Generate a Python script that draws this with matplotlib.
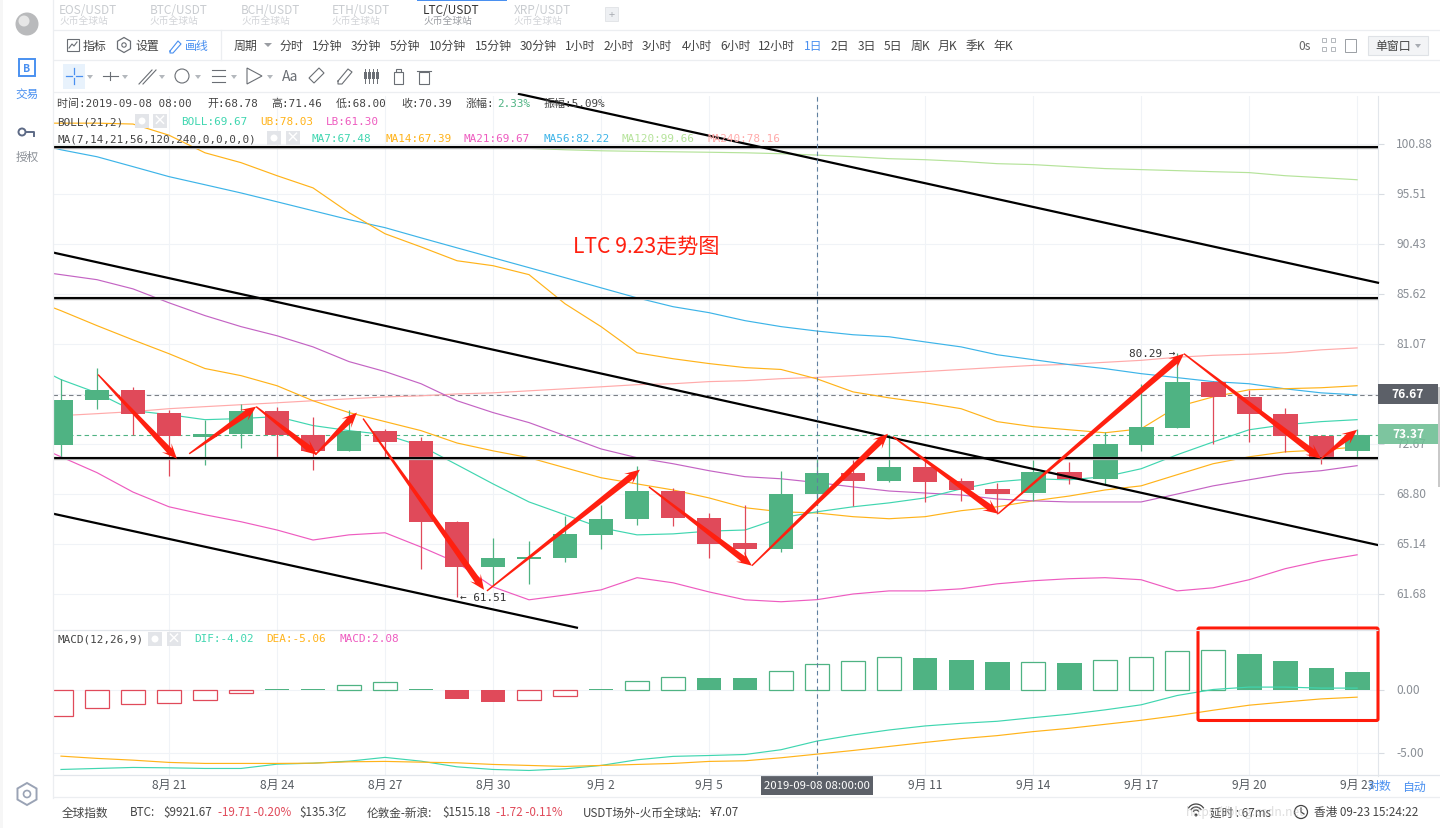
#!/usr/bin/env python3
# -*- coding: utf-8 -*-
import numpy as np
import matplotlib
matplotlib.use("Agg")
import matplotlib.pyplot as plt
from matplotlib.patches import Rectangle, Circle, Polygon, FancyBboxPatch, RegularPolygon
from matplotlib.transforms import IdentityTransform, ScaledTranslation

plt.rcParams['font.family'] = ['Noto Sans CJK SC', 'DejaVu Sans']
MONO = ['DejaVu Sans Mono', 'Noto Sans CJK SC']

# daily candles, 8/18 .. 9/23
OPEN = [72.62, 76.21, 77.10, 75.20, 73.19, 73.44, 75.37, 73.41, 72.08, 73.74, 72.90, 66.75, 63.50,
        64.12, 64.19, 65.82, 66.92, 69.02, 67.04, 65.21, 64.79, 68.78, 70.42, 69.80, 70.88, 69.80,
        69.18, 68.87, 70.50, 69.95, 72.59, 73.96, 77.79, 76.51, 75.12, 73.33, 72.14]
CLOSE = [76.27, 77.10, 75.07, 73.27, 73.47, 75.37, 73.36, 72.08, 73.74, 72.85, 66.70, 63.50, 64.17,
         64.22, 65.87, 66.97, 69.02, 66.99, 65.16, 64.79, 68.80, 70.39, 69.80, 70.88, 69.75, 69.10,
         68.80, 70.50, 69.95, 72.66, 74.05, 77.79, 76.54, 75.07, 73.27, 71.52, 73.37]
HIGH = [78.05, 79.00, 77.35, 75.39, 74.63, 75.94, 75.64, 74.88, 75.45, 73.90, 73.23, 66.83, 65.57,
        65.36, 67.19, 67.99, 70.96, 69.26, 67.41, 67.99, 70.57, 71.46, 71.42, 73.39, 71.73, 70.03,
        69.64, 71.42, 71.29, 73.66, 77.62, 80.29, 77.87, 77.10, 75.61, 73.38, 73.85]
LOW = [71.58, 75.53, 73.40, 70.21, 71.05, 72.36, 71.50, 70.65, 72.08, 71.58, 63.36, 61.51, 62.30,
       62.37, 63.85, 64.79, 66.53, 66.47, 64.17, 63.83, 64.59, 68.00, 67.92, 69.72, 68.23, 68.31,
       67.33, 68.31, 69.59, 69.57, 72.14, 73.96, 72.69, 72.84, 72.07, 71.07, 71.60]

# indicator lines start one day earlier, off the left edge
MA7 = [79.52, 77.97, 76.85, 75.37, 75.04, 74.63, 74.72, 74.88, 74.15, 73.74, 73.42, 72.52, 71.04,
       69.57, 68.21, 67.26, 66.31, 65.80, 65.87, 66.07, 66.15, 67.04, 67.48, 67.85, 68.14, 68.51,
       69.19, 69.73, 69.96, 69.88, 70.12, 70.73, 71.82, 72.83, 73.81, 74.22, 74.47, 74.63]
MA14 = [85.35, 84.07, 82.71, 81.43, 80.21, 78.92, 78.31, 77.45, 76.19, 75.21, 74.47, 73.74, 72.75,
        72.13, 71.59, 70.81, 70.04, 69.57, 69.11, 68.51, 67.78, 67.48, 67.39, 67.12, 66.97, 67.12,
        67.56, 67.85, 68.29, 68.65, 69.11, 69.42, 70.27, 71.12, 71.66, 72.05, 72.20, 72.44]
MA21 = [87.93, 87.45, 86.97, 86.10, 84.80, 83.62, 82.62, 81.80, 80.81, 79.52, 78.66, 77.62, 76.19,
        75.21, 74.39, 73.33, 72.28, 71.59, 71.12, 70.58, 70.12, 69.96, 69.67, 69.34, 69.03, 68.88,
        68.73, 68.43, 68.29, 68.21, 68.21, 68.21, 68.80, 69.42, 69.88, 70.35, 70.58, 70.97]
MA56 = [101.31, 100.24, 99.48, 98.41, 97.34, 96.48, 95.62, 94.70, 93.78, 92.87, 92.06, 91.04, 90.05,
        89.08, 88.12, 87.16, 86.20, 85.26, 84.44, 83.89, 83.16, 82.62, 82.22, 81.89, 81.71, 81.25,
        80.81, 80.12, 79.69, 79.26, 78.91, 78.48, 78.14, 77.80, 77.62, 77.19, 76.85, 76.68]
MA120 = [100.60, 100.60, 100.60, 100.58, 100.58, 100.57, 100.57, 100.56, 100.56, 100.56, 100.55, 100.55,
         100.50, 100.45, 100.40, 100.24, 100.13, 100.07, 100.02, 99.97, 99.91, 99.81, 99.66, 99.48,
         99.27, 99.16, 98.98, 98.73, 98.63, 98.41, 98.20, 98.09, 97.98, 97.87, 97.77, 97.44, 97.23, 97.01]
MA240 = [74.72, 74.96, 75.12, 75.29, 75.53, 75.70, 75.86, 76.02, 76.19, 76.35, 76.51, 76.60, 76.76,
         76.85, 77.02, 77.19, 77.36, 77.54, 77.62, 77.80, 77.88, 78.05, 78.16, 78.31, 78.48, 78.66,
         78.84, 79.02, 79.19, 79.28, 79.46, 79.63, 79.90, 80.07, 80.16, 80.29, 80.55, 80.72]
UB = [103.20, 103.20, 103.20, 103.10, 101.85, 99.91, 98.84, 97.44, 96.15, 93.58, 91.45, 90.14, 88.79,
      88.31, 87.45, 84.71, 82.62, 80.29, 79.77, 79.35, 79.00, 78.84, 78.03, 76.93, 76.43, 76.02,
      75.53, 74.47, 74.06, 73.81, 73.57, 73.89, 75.69, 76.51, 77.11, 77.20, 77.28, 77.45]
LB = [72.92, 71.66, 70.43, 68.95, 67.85, 67.26, 66.75, 66.15, 65.43, 65.80, 65.95, 64.93, 63.83,
      62.16, 61.29, 61.61, 61.96, 62.79, 62.44, 61.82, 61.29, 61.16, 61.30, 61.68, 61.89, 61.89,
      62.03, 62.37, 62.58, 62.72, 62.79, 62.65, 61.89, 62.10, 62.65, 63.41, 63.96, 64.38]

# MACD pane
HIST = [-2.05, -1.41, -1.09, -1.01, -0.77, -0.21, 0.13, 0.13, 0.43, 0.67, 0.13, -0.64, -0.88,
        -0.77, -0.45, 0.13, 0.75, 1.06, 1.01, 1.01, 1.54, 2.08, 2.34, 2.66, 2.61, 2.45,
        2.29, 2.26, 2.21, 2.42, 2.66, 3.14, 3.22, 2.93, 2.37, 1.81, 1.49]
HIST_FILLED = [0, 0, 0, 0, 0, 0, 1, 1, 0, 0, 1, 1, 1,
               0, 0, 1, 0, 0, 1, 1, 0, 0, 0, 0, 1, 1,
               1, 0, 1, 0, 0, 0, 0, 1, 1, 1, 1]
DIF = [-6.28, -6.20, -6.12, -6.15, -6.20, -6.20, -5.86, -5.78, -5.62, -5.32, -5.62, -6.07, -6.28,
       -6.36, -6.23, -5.96, -5.51, -5.24, -5.17, -5.09, -4.71, -4.02, -3.54, -3.14, -2.82, -2.61,
       -2.45, -2.16, -1.89, -1.54, -1.14, -0.40, 0.08, 0.27, 0.27, 0.19, 0.19]
DEA = [-5.22, -5.40, -5.54, -5.72, -5.80, -5.80, -5.80, -5.78, -5.67, -5.64, -5.70, -5.75, -5.88,
       -5.96, -6.04, -5.96, -5.88, -5.80, -5.64, -5.59, -5.35, -5.06, -4.77, -4.45, -4.13, -3.83,
       -3.59, -3.27, -3.01, -2.69, -2.37, -2.00, -1.57, -1.17, -0.91, -0.67, -0.53]

# axis ticks
PRICE_TICKS = [100.88, 95.51, 90.43, 85.62, 81.07, 76.76, 72.67, 68.80, 65.14, 61.68]
MACD_TICKS = [0, -5]
DATE_POS = [3, 6, 9, 12, 15, 18, 21, 24, 27, 30, 33, 36]
DATE_LABELS = ['8月 21', '8月 24', '8月 27', '8月 30', '9月 2', '9月 5', '', '9月 11', '9月 14', '9月 17', '9月 20', '9月 23']

# drawn on the chart by hand: (day, price)
ARROW_STARTS = [(1.03, 78.40), (3.56, 71.90), (5.42, 75.70), (7.06, 71.82), (8.39, 74.72), (11.83, 61.89),
                (16.33, 69.34), (19.19, 63.62), (23.11, 73.25), (26.03, 67.34), (31.19, 80.21), (35.00, 71.51)]
ARROW_ENDS = [(3.22, 71.51), (5.42, 75.70), (7.11, 71.82), (8.22, 75.21), (11.75, 61.96), (16.08, 70.66),
              (19.19, 63.62), (22.97, 73.49), (26.03, 67.34), (31.19, 80.21), (35.00, 71.51), (36.00, 73.81)]
SLANT_LINES = [((12.72, 106.55), (36.58, 86.68)),
               ((-0.22, 89.59), (36.58, 65.07)),
               ((-0.22, 67.34), (14.33, 59.45))]
FLAT_LINES = [100.53, 85.23, 71.57]
LAST_PRICE = 73.37
REF_PRICE = 76.67

GREEN = '#4fb383'
RED = '#e04a5a'
TEAL = '#40d6b0'
ORANGE = '#ffb31a'
PINK = '#ee5cc0'
BLUE = '#3db4e8'
LGREEN = '#b5e39a'
SALMON = '#ffaaaa'
PURPLE = '#c464c4'
GRID = '#f0f3f7'
ARROW = '#ff2010'
TXT = '#555a60'
LINKBLUE = '#4a90f0'
ICON = '#6a6e74'

W, H = 1440, 829
fig = plt.figure(figsize=(W / 100, H / 100), dpi=100, facecolor='white')


def pane(left, top, right, bottom):
    return fig.add_axes([left / W, 1 - bottom / H, (right - left) / W, (bottom - top) / H])


def nudge_labels(axis, up_px):
    for lab in axis.get_yticklabels():
        lab.set_transform(lab.get_transform() + ScaledTranslation(0, up_px / 100, fig.dpi_scale_trans))


ax = pane(53, 97, 1378, 631)
ax2 = pane(53, 631.5, 1378, 776.5)
days = np.arange(len(OPEN))
line_days = np.arange(-1, len(OPEN))

# price pane
ax.set_xlim(-0.222, 36.58)
ax.set_yscale('log')
ax.set_ylim(59.30, 106.31)
ax.set_yticks(PRICE_TICKS)
ax.set_yticks([], minor=True)
ax.set_yticklabels(['%.2f' % t for t in PRICE_TICKS], fontsize=8.6, color='#8a8f96')
ax.yaxis.tick_right()
ax.tick_params(axis='y', which='major', length=4, width=0.8, color='#d8dce2', pad=9)
nudge_labels(ax, 2)
ax.set_xticks(DATE_POS)
ax.tick_params(axis='x', length=0, labelbottom=False)
ax.grid(True, color=GRID, lw=0.8)
ax.set_axisbelow(True)
for s in ['top', 'left', 'bottom']:
    ax.spines[s].set_visible(False)
ax.spines['right'].set_color('#e2e6eb')

ax.axhline(REF_PRICE, color='#7b8087', lw=0.8, ls=(0, (4, 3)), zorder=2)
ax.axhline(LAST_PRICE, color=GREEN, lw=0.8, ls=(0, (4, 3)), zorder=2)

for name_vals, col in [(MA240, SALMON), (MA120, LGREEN), (MA56, BLUE), (UB, ORANGE), (MA14, ORANGE),
                       (MA21, PURPLE), (LB, PINK), (MA7, TEAL)]:
    ax.plot(line_days, name_vals, color=col, lw=0.85, zorder=3)

for i in days:
    col = GREEN if CLOSE[i] >= OPEN[i] else RED
    ax.vlines(i, LOW[i], HIGH[i], color=col, lw=0.9, zorder=4)
    lo, hi = min(OPEN[i], CLOSE[i]), max(OPEN[i], CLOSE[i])
    ax.bar(i, hi - lo, bottom=lo, width=0.69, color=col, lw=0, zorder=5)

for p in FLAT_LINES:
    ax.axhline(p, color='#a8a8a8', lw=2.4, zorder=6)
    ax.axhline(p, color='black', lw=1.4, zorder=6)
for a, b in SLANT_LINES:
    ax.plot([a[0], b[0]], [a[1], b[1]], color='black', lw=1.6, zorder=6, clip_on=a[1] < 106)

ax.axvline(21, color='#5f7f9f', lw=0.8, ls=(0, (4, 3)), zorder=6)

ax.text(30.96, 80.29, '80.29 →', ha='right', va='center', fontsize=7.9, family=MONO, color='#333333', zorder=8)
ax.text(11.08, 61.51, '← 61.51', ha='left', va='center', fontsize=7.9, family=MONO, color='#333333', zorder=8)
ax.text(14.22, 90.24, 'LTC 9.23走势图', ha='left', va='center', fontsize=15.2, color='#ff2010', zorder=8)


def red_arrow(start, end):
    # hand drawn look: thin tail, fat just before the head
    p0 = ax.transData.transform(start)
    p1 = ax.transData.transform(end)
    d = (p1 - p0) / np.hypot(*(p1 - p0))
    n = np.array([-d[1], d[0]])
    neck = p1 - d * 11
    back = p1 - d * 15
    pts = [p0 + n * 0.7, neck + n * 3.2, back + n * 6.5, p1, back - n * 6.5, neck - n * 3.2, p0 - n * 0.7]
    fig.add_artist(Polygon(pts, closed=True, facecolor=ARROW, edgecolor='none',
                           transform=IdentityTransform(), zorder=9))


for s, e in zip(ARROW_STARTS, ARROW_ENDS):
    red_arrow(s, e)

# macd pane
ax2.set_xlim(-0.222, 36.58)
ax2.set_ylim(-6.76, 4.77)
ax2.set_yticks(MACD_TICKS)
ax2.set_yticklabels(['%.2f' % t for t in MACD_TICKS], fontsize=8.6, color='#8a8f96')
ax2.yaxis.tick_right()
ax2.tick_params(axis='y', length=4, width=0.8, color='#d8dce2', pad=9)
nudge_labels(ax2, 2.5)
ax2.set_xticks(DATE_POS)
ax2.set_xticklabels(DATE_LABELS, fontsize=8.6, color=TXT)
ax2.tick_params(axis='x', length=0, pad=1.5)
ax2.grid(True, color=GRID, lw=0.8)
ax2.set_axisbelow(True)
for s in ['left', 'top', 'bottom']:
    ax2.spines[s].set_visible(False)
ax2.spines['right'].set_color('#e2e6eb')

for i in days:
    col = GREEN if HIST[i] > 0 else RED
    if HIST_FILLED[i]:
        ax2.bar(i, HIST[i], width=0.69, color=col, lw=0, zorder=3)
    else:
        ax2.bar(i, HIST[i], width=0.66, facecolor='white', edgecolor=col, lw=0.9, zorder=3)
ax2.plot(days, DIF, color=TEAL, lw=0.85, zorder=4)
ax2.plot(days, DEA, color=ORANGE, lw=0.85, zorder=4)
ax2.axvline(21, color='#5f7f9f', lw=0.8, ls=(0, (4, 3)), zorder=5)

# page chrome in pixel coordinates
ov = fig.add_axes([0, 0, 1, 1], zorder=10)
ov.set_xlim(0, W)
ov.set_ylim(H, 0)
ov.axis('off')
ov.patch.set_alpha(0)


def t(x, y, s, color=TXT, size=8.6, ha='left', fam=None, **kw):
    ov.text(x, y, s, color=color, fontsize=size, ha=ha, va='center', family=fam or plt.rcParams['font.family'], **kw)


def hline(x0, x1, y, color='#eceef1', lw=0.9):
    ov.plot([x0, x1], [y, y], color=color, lw=lw, solid_capstyle='butt')


hline(53, W, 30.5)
hline(53, W, 61)
hline(53, W, 93)
hline(53, 1378, 630.5, '#e2e6eb')
hline(53, 1440, 775.5, '#e2e6eb')
hline(53, W, 798)
ov.plot([53, 53], [0, 799], color='#eceef1', lw=0.9)
ov.plot([221, 221], [31, 61], color='#eceef1', lw=0.9)
ov.add_patch(Rectangle((0, 0), 3, 829, color='#f6f6f6', lw=0))

# tabs
for x, name in zip([59, 150, 241, 332, 423, 514], ['EOS/USDT', 'BTC/USDT', 'BCH/USDT', 'ETH/USDT', 'LTC/USDT', 'XRP/USDT']):
    on = name == 'LTC/USDT'
    t(x, 10.5, name, '#333333' if on else '#c9ccd0', 8.5)
    t(x, 21, '火币全球站', '#9a9da2' if on else '#d2d4d8', 7.0)
ov.add_patch(Rectangle((417, 0), 90, 1.5, color=LINKBLUE, lw=0))
ov.add_patch(Rectangle((605, 8), 13, 14, facecolor='#eef0f3', edgecolor='#e0e2e6', lw=0.6))
t(611.5, 15, '+', '#a8acb2', 8, ha='center')

# sidebar
ov.add_patch(Circle((27, 25), 11.5, color='#b9babc', lw=0))
ov.add_patch(Circle((24, 22), 5.5, color='#e6e6e6', lw=0))
ov.add_patch(Rectangle((19, 60), 16, 17, facecolor='none', edgecolor=LINKBLUE, lw=1.4))
t(27, 68.5, 'B', LINKBLUE, 7.5, ha='center', fontweight='bold')
t(27, 94, '交易', LINKBLUE, 8.4, ha='center')
ov.add_patch(Circle((22, 133), 3.5, facecolor='none', edgecolor='#5d6a86', lw=1.4))
ov.plot([26, 34, 34], [133, 133, 137], color='#5d6a86', lw=1.4)
t(27, 157, '授权', '#8a8f96', 8.4, ha='center')
ov.add_patch(RegularPolygon((27, 795), 6, radius=11, facecolor='none', edgecolor='#9aa3b5', lw=1.4))
ov.add_patch(Circle((27, 795), 3.5, facecolor='none', edgecolor='#9aa3b5', lw=1.2))

# toolbar row 1
ov.add_patch(Rectangle((67, 40), 12, 12, facecolor='none', edgecolor=ICON, lw=0.8))
ov.plot([69, 72, 74, 77], [49, 45, 47, 43], color=ICON, lw=0.8)
t(83, 46, '指标', '#444444')
ov.add_patch(RegularPolygon((124, 46), 6, radius=7.5, facecolor='none', edgecolor=ICON, lw=0.9))
ov.add_patch(Circle((124, 46), 2.2, facecolor='none', edgecolor=ICON, lw=0.8))
t(135, 46, '设置', '#444444')
ov.plot([170, 178, 181, 173, 170, 170], [52, 42, 45, 54, 54, 52], color=LINKBLUE, lw=0.8)
t(185, 46, '画线', LINKBLUE)
t(234, 46, '周期', '#444444')
ov.add_patch(Polygon([(264, 44), (272, 44), (268, 48)], color='#9a9da2', lw=0))
periods = ['分时', '1分钟', '3分钟', '5分钟', '10分钟', '15分钟', '30分钟', '1小时', '2小时', '3小时', '4小时', '6小时', '12小时',
           '1日', '2日', '3日', '5日', '周K', '月K', '季K', '年K']
period_x = [280, 312, 351, 390, 429, 475, 520, 565, 604, 642, 682, 720, 758, 804, 831, 858, 884, 911, 938, 966, 993]
for x, s in zip(period_x, periods):
    t(x, 46, s, LINKBLUE if s == '1日' else '#444444', 8.6)
t(1298, 46, '0s', '#666666', 8.6)
for dx, dy in [(1322, 39), (1331, 39), (1322, 48), (1331, 48)]:
    ov.add_patch(Rectangle((dx, dy), 4, 4, facecolor='none', edgecolor='#b4b8bd', lw=0.7))
ov.add_patch(Rectangle((1345, 40), 11, 13, facecolor='none', edgecolor='#9a9ea4', lw=0.7))
ov.add_patch(Rectangle((1368, 37), 60, 19, facecolor='#f3f4f6', edgecolor='#dfe2e6', lw=0.8))
t(1375, 46.5, '单窗口', '#444444', 8.6)
ov.add_patch(Polygon([(1415, 45), (1421, 45), (1418, 49)], color='#a8acb2', lw=0))

# toolbar row 2
ov.add_patch(Rectangle((63, 65), 22, 25, color='#e8f2fc', lw=0))
ov.plot([66, 72], [77, 77], color=LINKBLUE, lw=0.9)
ov.plot([76, 82], [77, 77], color=LINKBLUE, lw=0.9)
ov.plot([74, 74], [69, 75], color=LINKBLUE, lw=0.9)
ov.plot([74, 74], [79, 85], color=LINKBLUE, lw=0.9)
for x in [90, 125, 162, 198, 234, 270]:
    ov.add_patch(Polygon([(x - 3, 76), (x + 3, 76), (x, 80)], color='#b4b8bd', lw=0))
ov.plot([103, 118], [77, 77], color=ICON, lw=0.8)
ov.plot([110, 110], [73, 81], color=ICON, lw=0.8)
ov.plot([139, 152], [85, 71], color=ICON, lw=0.8)
ov.plot([143, 156], [85, 71], color=ICON, lw=0.8)
ov.add_patch(Circle((182, 77), 7, facecolor='none', edgecolor=ICON, lw=0.8))
for y in [71, 77, 83]:
    ov.plot([212, 225], [y, y], color=ICON, lw=0.8)
ov.add_patch(Polygon([(247, 69), (262, 77), (247, 85)], facecolor='none', edgecolor=ICON, lw=0.8))
t(290, 77, 'Aa', ICON, 10, ha='center')
ov.add_patch(Polygon([(309, 79), (319, 69), (324, 74), (314, 84)], facecolor='none', edgecolor=ICON, lw=0.8))
ov.plot([338, 348, 352, 342, 338, 338], [82, 70, 73, 85, 85, 82], color=ICON, lw=0.8)
for x in [365, 369, 373, 377]:
    ov.plot([x, x], [70, 84], color=ICON, lw=0.7)
    ov.add_patch(Rectangle((x - 1.5, 73), 3, 7, color=ICON, lw=0))
ov.add_patch(Rectangle((394, 73), 9, 12, facecolor='none', edgecolor=ICON, lw=0.8))
ov.add_patch(Rectangle((396, 70), 5, 3, facecolor='none', edgecolor=ICON, lw=0.8))
ov.add_patch(Rectangle((419, 73), 10, 12, facecolor='none', edgecolor=ICON, lw=0.8))
ov.plot([417, 431], [72, 72], color=ICON, lw=0.8)

# legend rows
LG = 7.9
for x, s in [(57, '时间:2019-09-08 08:00'), (207, '开:68.78'), (271, '高:71.46'), (336, '低:68.00'),
             (401, '收:70.39'), (466, '涨幅:'), (544, '振幅:5.09%')]:
    t(x, 104, s, '#444444', LG, fam=MONO)
t(497, 104, '2.33%', GREEN, LG, fam=MONO)
t(57, 122, 'BOLL(21,2)', '#444444', LG, fam=MONO)
t(181, 122, 'BOLL:69.67', TEAL, LG, fam=MONO)
t(260, 122, 'UB:78.03', ORANGE, LG, fam=MONO)
t(326, 122, 'LB:61.30', PINK, LG, fam=MONO)
t(57, 139, 'MA(7,14,21,56,120,240,0,0,0,0)', '#444444', LG, fam=MONO)
for x, s, c in [(312, 'MA7:67.48', TEAL), (385, 'MA14:67.39', ORANGE), (464, 'MA21:69.67', PINK),
                (543, 'MA56:82.22', BLUE), (622, 'MA120:99.66', LGREEN), (708, 'MA240:78.16', SALMON)]:
    t(x, 139, s, c, LG, fam=MONO)
t(57, 639.5, 'MACD(12,26,9)', '#444444', LG, fam=MONO)
t(194, 639.5, 'DIF:-4.02', TEAL, LG, fam=MONO)
t(266, 639.5, 'DEA:-5.06', ORANGE, LG, fam=MONO)
t(339, 639.5, 'MACD:2.08', PINK, LG, fam=MONO)
for x, y in [(135, 115), (153, 115), (267, 132), (286, 132), (148, 633), (167, 633)]:
    ov.add_patch(Rectangle((x, y), 14, 14, color='#e3e5e9', lw=0))
for x, y in [(142, 122), (274, 139), (155, 640)]:
    ov.add_patch(Circle((x, y), 3.5, color='white', lw=0))
for x, y in [(160, 122), (293, 139), (174, 640)]:
    t(x, y, '×', 'white', 10, ha='center', fontweight='bold')

# price flags
ov.add_patch(Rectangle((1378, 385), 60, 20, color='#5c6068', lw=0))
t(1408, 394.5, '76.67', 'white', 8.6, ha='center', fontweight='bold')
ov.add_patch(Rectangle((1378, 425), 60, 20, color='#6fbf95', lw=0, alpha=0.9))
t(1408, 434.5, '73.37', 'white', 8.6, ha='center', fontweight='bold')
ov.add_patch(Rectangle((1438, 388), 2, 100, color='#c9c9c9', lw=0))

# time flag and scale buttons
ov.add_patch(Rectangle((761, 776), 112, 20, color='#5c6068', lw=0))
t(817, 786, '2019-09-08 08:00:00', 'white', 8.2, ha='center')
t(1367, 787, '对数', LINKBLUE, 8.6)
t(1402, 787, '自动', LINKBLUE, 8.6)

# red box around the last bars
ov.add_patch(FancyBboxPatch((1198, 629), 180, 92.5, boxstyle='round,pad=0,rounding_size=1.5',
                            facecolor='none', edgecolor='#ff1a0a', lw=2.2))

# status bar
BS = 8.4
t(62, 813, '全球指数', '#444444', BS)
t(130, 813, 'BTC:', '#444444', BS)
t(163, 813, '$9921.67', '#444444', BS)
t(218, 813, '-19.71 -0.20%', RED, BS)
t(299, 813, '$135.3亿', '#444444', BS)
t(367, 813, '伦敦金-新浪:', '#444444', BS)
t(442, 813, '$1515.18', '#444444', BS)
t(496, 813, '-1.72 -0.11%', RED, BS)
t(583, 813, 'USDT场外-火币全球站:', '#444444', BS)
t(710, 813, '¥7.07', '#444444', BS)
for r in [9, 6, 3]:
    th = np.radians(np.linspace(35, 145, 12))
    ov.plot(1196 + r * np.cos(th), 815 - r * np.sin(th) - 1, color='#444444', lw=0.9)
ov.add_patch(Circle((1196, 816), 1.5, color='#444444', lw=0))
t(1210, 813, '延时 : 67ms', '#444444', BS)
ov.add_patch(Circle((1301, 813), 6.5, facecolor='none', edgecolor='#444444', lw=0.9))
ov.plot([1301, 1301, 1304], [809, 813, 815], color='#444444', lw=0.9)
t(1314, 813, '香港 09-23 15:24:22', '#444444', BS)
t(1186, 813, 'https://blog.csdn.net', '#b5b5b5', 8.6, alpha=0.45)

fig.savefig('out.png', dpi=100, facecolor='white')
